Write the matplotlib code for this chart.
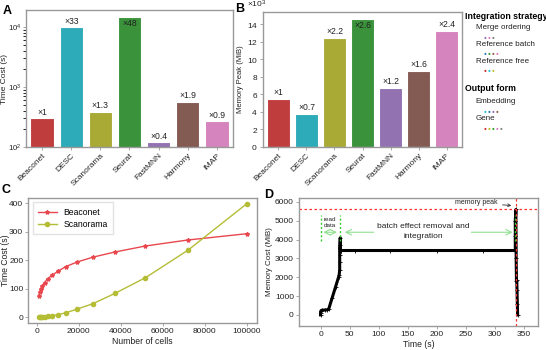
import numpy as np
import matplotlib
matplotlib.use("Agg")
import matplotlib.pyplot as plt
import seaborn as sns
from matplotlib.ticker import ScalarFormatter

plt.rcParams['font.family'] = ['Liberation Sans', 'DejaVu Sans']
plt.rcParams['mathtext.fontset'] = 'custom'
plt.rcParams['mathtext.rm'] = 'Liberation Sans'
plt.rcParams['mathtext.it'] = 'Liberation Sans:italic'
plt.rcParams['mathtext.bf'] = 'Liberation Sans:bold'

# data
methods = ["Beaconet", "DESC", "Scanorama", "Seurat", "FastMNN", "Harmony", "iMAP"]
time_cost = [300, 9900, 390, 14400, 120, 570, 270]
time_ratio = ["×1", "×33", "×1.3", "×48", "×0.4", "×1.9", "×0.9"]
mem_peak = [5450, 3750, 12400, 14600, 6700, 8700, 13200]
mem_ratio = ["×1", "×0.7", "×2.2", "×2.6", "×1.2", "×1.6", "×2.4"]

n_cells = [1000, 1389, 1931, 2683, 3728, 5179, 7197, 10000, 13895, 19307,
           26827, 37276, 51795, 71969, 100000]
beaconet_t = [75, 88, 100, 110, 122, 135, 147, 161, 178, 194, 211, 229, 250, 271, 293]
scanorama_t = [0, 0.5, 1, 1.5, 2.5, 4, 6, 9, 16, 29, 48, 84, 139, 235, 398]

mem_time = [0, 0, 0.5, 1, 3, 8, 12, 14, 20, 26, 31, 32, 33, 33, 33, 33, 33.5,
            34, 34, 35, 36, 60, 120, 200, 280, 335, 335, 335, 336, 336.5,
            337, 337.5, 338, 338.5, 339]
mem_cost = [0, 100, 180, 230, 250, 260, 270, 300, 900, 1500, 2000, 2100, 2400,
            2800, 3200, 3400, 3700, 4100, 3500, 3420, 3420, 3420, 3420, 3420,
            3420, 3420, 4200, 5000, 5600, 3000, 1800, 1850, 1300, 600, 0]

tab = plt.get_cmap("tab10").colors
base_cols = [tab[3], tab[9], tab[8], tab[2], tab[4], tab[5], tab[6]]
bar_cols = [sns.desaturate(c, 0.75) for c in base_cols]

strategy = {"Merge ordering": [4, 6, 7],
            "Reference batch": [0, 2, 5, 6],
            "Reference free": [3, 9, 8]}
output_form = {"Embedding": [9, 0, 4, 5],
               "Gene": [3, 8, 2, 6, 7]}

spine_col = "#999999"
txt_col = "#222222"


def style_ax(ax, size=6):
    for s in ax.spines.values():
        s.set_color(spine_col)
        s.set_linewidth(1.0)
    ax.tick_params(colors=txt_col, labelsize=size, length=2.5, width=0.6,
                   color=spine_col, pad=1.2)


def legend_block(title, groups, y_title, y_first):
    fig.text(0.8516, y_title, title, fontsize=6.3, fontweight="bold", va="center")
    yy = y_first
    for name, cols in groups.items():
        fig.text(0.8713, yy, name, fontsize=5.8, color=txt_col, va="center")
        for k, ci in enumerate(cols):
            fig.text(0.888 + k * 0.0072, yy - 0.027, "●", fontsize=3.4, color=tab[ci],
                     va="center", ha="center")
        yy -= 0.048


fig = plt.figure(figsize=(5.46, 3.5), dpi=100)

# ---- A
axA = fig.add_axes([0.0476, 0.58, 0.379, 0.391])
x = np.arange(len(methods))
axA.bar(x, time_cost, color=bar_cols, edgecolor="white", width=0.8, linewidth=0.8)
axA.set_yscale("log")
axA.set_ylim(100, 19000)
axA.set_xlim(-0.55, len(methods) - 0.45)
axA.set_xticks(x)
axA.set_xticklabels(methods, rotation=45, ha="right", rotation_mode="anchor")
axA.set_ylabel("Time Cost (s)", fontsize=6, color=txt_col)
axA.yaxis.set_label_coords(-0.087, 0.5)
for i, (v, r) in enumerate(zip(time_cost, time_ratio)):
    if i == 3:
        axA.text(i, v * 0.93, r, ha="center", va="top", fontsize=6.2, color=txt_col)
    else:
        axA.text(i, v * 1.05, r, ha="center", va="bottom", fontsize=6.2, color=txt_col)
style_ax(axA)
axA.tick_params(axis="y", labelsize=5.6, pad=1)

# ---- B
axB = fig.add_axes([0.4817, 0.58, 0.3645, 0.3857])
axB.bar(x, mem_peak, color=bar_cols, edgecolor="white", width=0.8, linewidth=0.8)
axB.set_ylim(0, 15400)
axB.set_xlim(-0.55, len(methods) - 0.45)
axB.set_xticks(x)
axB.set_xticklabels(methods, rotation=45, ha="right", rotation_mode="anchor")
axB.set_ylabel("Memory Peak (MiB)", fontsize=5.5, labelpad=2, color=txt_col)
axB.set_yticks([0, 2000, 4000, 6000, 8000, 10000, 12000, 14000])
fmt = ScalarFormatter(useMathText=True)
fmt.set_powerlimits((3, 3))
axB.yaxis.set_major_formatter(fmt)
for i, (v, r) in enumerate(zip(mem_peak, mem_ratio)):
    if i == 3:
        axB.text(i, v - 250, r, ha="center", va="top", fontsize=6.2, color=txt_col)
    else:
        axB.text(i, v + 250, r, ha="center", va="bottom", fontsize=6.2, color=txt_col)
style_ax(axB)
axB.yaxis.get_offset_text().set_fontsize(6)
axB.yaxis.get_offset_text().set_x(-0.08)

# ---- legend text
legend_block("Integration strategy", strategy, 0.954, 0.921)
legend_block("Output form", output_form, 0.748, 0.709)

# ---- C
axC = fig.add_axes([0.052, 0.0771, 0.419, 0.357])
axC.plot(n_cells, beaconet_t, color="#e8474d", marker="*", markersize=3, linewidth=1,
         label="Beaconet")
axC.plot(n_cells, scanorama_t, color="#b5bd35", marker="o", markersize=3, linewidth=1,
         label="Scanorama")
axC.set_xlabel("Number of cells", fontsize=6.2, labelpad=1, color=txt_col)
axC.set_ylabel("Time Cost (s)", fontsize=6.2, color=txt_col)
axC.yaxis.set_label_coords(-0.082, 0.5)
axC.set_yticks([0, 100, 200, 300, 400])
axC.set_xticks([0, 20000, 40000, 60000, 80000, 100000])
leg = axC.legend(loc="upper left", fontsize=6.2, frameon=True, fancybox=False,
                 handlelength=2.2, borderpad=0.6, labelspacing=0.4)
leg.get_frame().set_edgecolor("#dddddd")
style_ax(axC)

# ---- D
axD = fig.add_axes([0.5476, 0.0686, 0.4377, 0.3657])
axD.plot(mem_time, mem_cost, color="black", linewidth=2.2, marker="+",
         markersize=3, markeredgewidth=0.6)
axD.set_xlim(-37, 374)
axD.set_ylim(-590, 6210)
axD.set_xticks([0, 50, 100, 150, 200, 250, 300, 350])
axD.set_yticks([0, 1000, 2000, 3000, 4000, 5000, 6000])
axD.set_xlabel("Time (s)", fontsize=6.2, labelpad=1, color=txt_col)
axD.set_ylabel("Memory Cost (MiB)", fontsize=5.8, labelpad=1, color=txt_col)
peak = max(mem_cost)
peak_t = mem_time[mem_cost.index(peak)]
axD.axhline(peak, color="#ff3030", linestyle=(0, (2, 2)), linewidth=0.9)
axD.axvline(peak_t, color="#ff3030", linestyle=(0, (2, 2)), linewidth=0.9)
for xv in [0, 33, peak_t - 1]:
    axD.plot([xv, xv], [3900, 5300], color="#33cc33", linestyle=(0, (1.5, 1.5)),
             linewidth=1)
axD.annotate("", xy=(0, 4390), xytext=(33, 4390),
             arrowprops=dict(arrowstyle="<->", color="#90e090", lw=0.8))
axD.annotate("", xy=(37, 4390), xytext=(peak_t - 1, 4390),
             arrowprops=dict(arrowstyle="<->", color="#90e090", lw=0.8))
axD.text(16, 4900, "read\ndata", fontsize=4.5, ha="center", va="center",
         color=txt_col, linespacing=1.4)
axD.text(176, 4430, "batch effect removal and\nintegration", fontsize=6,
         ha="center", va="center", color=txt_col, linespacing=1.5,
         bbox=dict(facecolor="white", edgecolor="none", pad=1.5))
axD.annotate("memory peak", xy=(peak_t - 3, 5800), xytext=(267, 5950),
             fontsize=5, ha="center", va="center", color=txt_col,
             arrowprops=dict(arrowstyle="->", color="#333333", lw=0.6))
style_ax(axD)

# panel letters
fig.text(0.005, 0.985, "A", fontsize=9, fontweight="bold", va="top")
fig.text(0.43, 0.99, "B", fontsize=9, fontweight="bold", va="top")
fig.text(0.003, 0.475, "C", fontsize=9, fontweight="bold", va="top")
fig.text(0.483, 0.46, "D", fontsize=9, fontweight="bold", va="top")

fig.savefig("out.png", dpi=100)
